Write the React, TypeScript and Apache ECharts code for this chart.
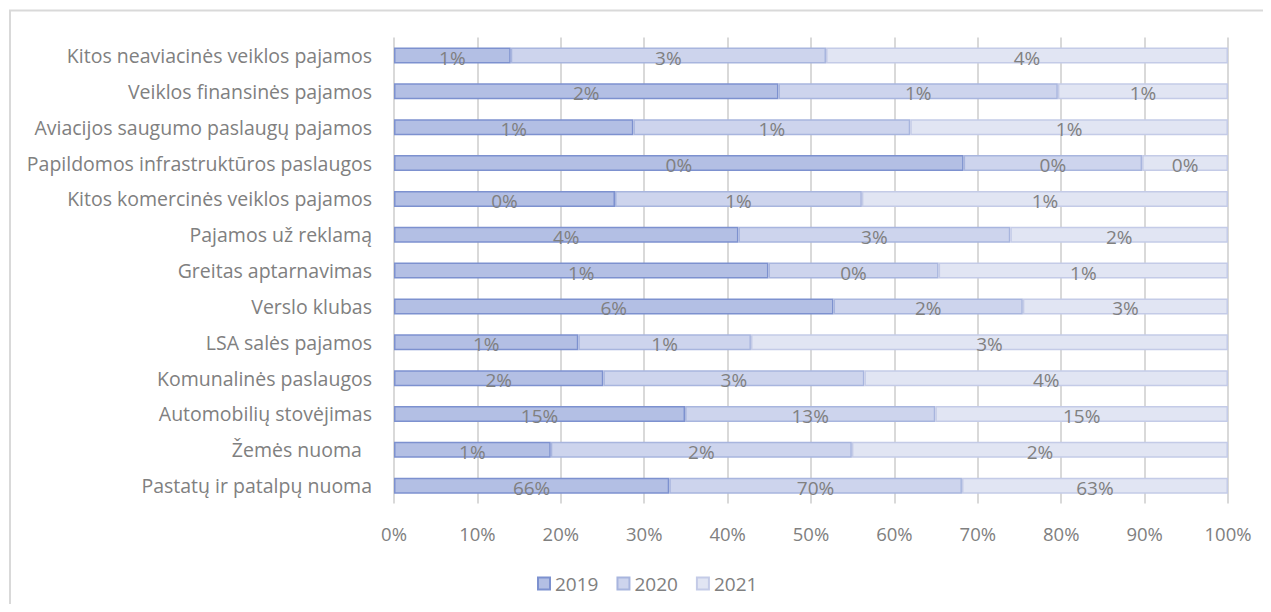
import React, { useEffect, useRef } from "react";
import * as echarts from "echarts";

const categories = [
  "Kitos neaviacinės veiklos pajamos",
  "Veiklos finansinės pajamos",
  "Aviacijos saugumo paslaugų pajamos",
  "Papildomos infrastruktūros paslaugos",
  "Kitos komercinės veiklos pajamos",
  "Pajamos už reklamą",
  "Greitas aptarnavimas",
  "Verslo klubas",
  "LSA salės pajamos",
  "Komunalinės paslaugos",
  "Automobilių stovėjimas",
  "Žemės nuoma  ",
  "Pastatų ir patalpų nuoma",
];

const years = ["2019", "2020", "2021"];

// share of each row (segment widths, %)
const share2019 = [14.0, 46.1, 28.7, 68.3, 26.5, 41.3, 44.9, 52.7, 22.1, 25.1, 34.9, 18.8, 33.0];
const share2020 = [37.8, 33.5, 33.2, 21.4, 29.6, 32.6, 20.4, 22.7, 20.7, 31.3, 30.0, 36.1, 35.1];
const share2021 = [48.2, 20.4, 38.1, 10.3, 43.9, 26.1, 34.7, 24.6, 57.2, 43.6, 35.1, 45.1, 31.9];

// data labels shown on segments
const label2019 = ["1%", "2%", "1%", "0%", "0%", "4%", "1%", "6%", "1%", "2%", "15%", "1%", "66%"];
const label2020 = ["3%", "1%", "1%", "0%", "1%", "3%", "0%", "2%", "1%", "3%", "13%", "2%", "70%"];
const label2021 = ["4%", "1%", "1%", "0%", "1%", "2%", "1%", "3%", "3%", "4%", "15%", "2%", "63%"];

const xTicks = [0, 10, 20, 30, 40, 50, 60, 70, 80, 90, 100];

const FONT = "'Open Sans', sans-serif";
const TXT = "#808080";

const fills = ["#b3bfe4", "#cdd4ed", "#e1e5f3"];
const borders = ["#7d91cf", "#a8b5de", "#c4cbe7"];

export default function App() {
  const ref = useRef<HTMLDivElement>(null);
  useEffect(() => {
    if (!ref.current) return;
    const chart = echarts.init(ref.current, undefined, { renderer: "svg" });
    const shares = [share2019, share2020, share2021];
    const labels = [label2019, label2020, label2021];
    chart.setOption({
      animation: false,
      textStyle: { fontFamily: FONT },
      graphic: [
        {
          type: "rect",
          shape: { x: 2, y: 2.5, width: 1400, height: 1000 },
          style: { fill: "none", stroke: "#d9d9d9", lineWidth: 2 },
          silent: true,
        },
      ],
      legend: {
        left: 524,
        top: 561,
        itemWidth: 12,
        itemHeight: 12,
        itemGap: 18,
        icon: "rect",
        textStyle: { color: TXT, fontSize: 19, fontFamily: FONT },
        data: years,
      },
      grid: { left: 386, right: 43, top: 29.6, bottom: 100.4, containLabel: false },
      xAxis: {
        type: "value",
        min: xTicks[0],
        max: xTicks[xTicks.length - 1],
        interval: 10,
        axisLine: { show: false },
        axisTick: { show: false },
        splitLine: { show: true, lineStyle: { color: "#d9d9d9", width: 2 } },
        axisLabel: {
          formatter: "{value}%",
          color: TXT,
          fontSize: 18.5,
          fontFamily: FONT,
          margin: 20,
        },
      },
      yAxis: {
        type: "category",
        inverse: true,
        data: categories,
        axisLine: { show: false },
        axisTick: { show: false },
        axisLabel: { color: TXT, fontSize: 19.5, fontFamily: FONT, margin: 22 },
      },
      series: years.map((y, i) => ({
        name: y,
        type: "bar",
        stack: "total",
        barWidth: 16,
        data: shares[i],
        itemStyle: { color: fills[i], borderColor: borders[i], borderWidth: 1.5 },
        label: {
          show: true,
          position: "inside",
          offset: [0, 2],
          color: TXT,
          fontSize: 19,
          fontFamily: FONT,
          formatter: (p: any) => labels[i][p.dataIndex],
        },
      })),
    });
    return () => chart.dispose();
  }, []);
  return <div ref={ref} style={{ width: 1263, height: 596 }} />;
}
